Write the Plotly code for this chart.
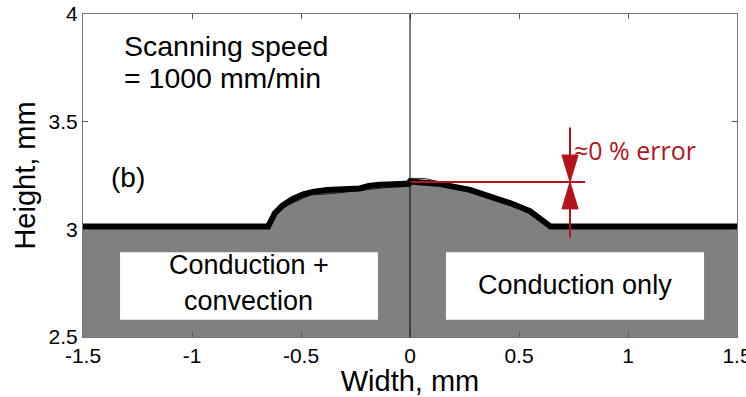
import plotly.graph_objects as go

# Melt-track cross-section profile (mm)
profile_x = [-1.5, -0.651, -0.62, -0.585, -0.54, -0.49, -0.44, -0.38, -0.23, -0.19, -0.14, -0.005,
             0.0, 0.14, 0.275, 0.367, 0.459, 0.55, 0.619, 0.645, 1.5]
profile_y = [3.013, 3.013, 3.075, 3.11, 3.14, 3.163, 3.175, 3.183, 3.19, 3.202, 3.207, 3.212,
             3.222, 3.21, 3.183, 3.155, 3.122, 3.085, 3.034, 3.013, 3.013]

# Individual simulated contours around the mean profile
contour_a_x = [-0.665, -0.635, -0.60, -0.555, -0.50, -0.455, -0.37, -0.30, -0.22, -0.12, 0.0]
contour_a_y = [3.005, 3.055, 3.09, 3.115, 3.14, 3.16, 3.165, 3.172, 3.18, 3.193, 3.2]
contour_b_x = [0.0, 0.07, 0.17, 0.26, 0.34, 0.43, 0.51, 0.58, 0.625, 0.66]
contour_b_y = [3.237, 3.236, 3.212, 3.178, 3.16, 3.135, 3.1, 3.06, 3.025, 3.005]
contour_c_x = [-0.64, -0.6, -0.52, -0.45, -0.33, -0.25, -0.15, -0.05, 0.0]
contour_c_y = [3.02, 3.095, 3.15, 3.178, 3.188, 3.198, 3.21, 3.222, 3.225]

x_ticks = [-1.5, -1, -0.5, 0, 0.5, 1, 1.5]
x_tick_labels = ["-1.5", "-1", "-0.5", "0", "0.5", "1", "1.5"]
y_ticks = [2.5, 3, 3.5, 4]
y_tick_labels = ["2.5", "3", "3.5", "4"]

# Error marker: reference height and where the dimension line sits
ref_height = 3.22
dim_x = 0.734

RED = "#b3141c"
FONT = "Liberation Sans, Arial, sans-serif"

fig = go.Figure()

# Substrate + deposited track
fig.add_trace(go.Scatter(x=profile_x, y=profile_y, mode="lines", fill="tozeroy",
                         fillcolor="#808080", line=dict(color="black", width=6),
                         hoverinfo="skip", showlegend=False))
for cx, cy in [(contour_a_x, contour_a_y), (contour_b_x, contour_b_y), (contour_c_x, contour_c_y)]:
    fig.add_trace(go.Scatter(x=cx, y=cy, mode="lines", line=dict(color="black", width=1),
                             opacity=0.8, hoverinfo="skip", showlegend=False))

# Dimension lines
fig.add_trace(go.Scatter(x=[0, 0.803], y=[ref_height, ref_height], mode="lines",
                         line=dict(color=RED, width=2), showlegend=False, hoverinfo="skip"))
fig.add_trace(go.Scatter(x=[dim_x, dim_x], y=[2.962, 3.473], mode="lines",
                         line=dict(color=RED, width=2), showlegend=False, hoverinfo="skip"))
# Arrowheads (down from above, up from below)
hw = 0.037
fig.add_trace(go.Scatter(x=[dim_x - hw, dim_x + hw, dim_x, dim_x - hw],
                         y=[3.345, 3.345, ref_height, 3.345], mode="lines", fill="toself",
                         fillcolor=RED, line=dict(color=RED, width=1),
                         showlegend=False, hoverinfo="skip"))
fig.add_trace(go.Scatter(x=[dim_x - hw, dim_x + hw, dim_x, dim_x - hw],
                         y=[3.095, 3.095, ref_height, 3.095], mode="lines", fill="toself",
                         fillcolor=RED, line=dict(color=RED, width=1),
                         showlegend=False, hoverinfo="skip"))

# White label boxes and the symmetry line
fig.add_shape(type="rect", x0=-1.33, x1=-0.147, y0=2.58, y1=2.893,
              fillcolor="white", line=dict(width=0), layer="above")
fig.add_shape(type="rect", x0=0.165, x1=1.349, y0=2.58, y1=2.893,
              fillcolor="white", line=dict(width=0), layer="above")
fig.add_shape(type="line", x0=0, x1=0, y0=2.5, y1=4,
              line=dict(color="black", width=1), layer="above")

label_font = dict(family=FONT, size=27, color="black")
fig.add_annotation(x=-0.74, y=2.835, text="Conduction +", showarrow=False, font=label_font)
fig.add_annotation(x=-0.74, y=2.668, text="convection", showarrow=False, font=label_font)
fig.add_annotation(x=0.757, y=2.742, text="Conduction only", showarrow=False, font=label_font)

speed_font = dict(family=FONT, size=28.5, color="black")
fig.add_annotation(x=-1.32, y=3.851, text="Scanning speed", showarrow=False,
                   xanchor="left", font=speed_font)
fig.add_annotation(x=-1.32, y=3.703, text="= 1000 mm/min", showarrow=False,
                   xanchor="left", font=speed_font)
fig.add_annotation(x=-1.295, y=3.24, text="(b)", showarrow=False,
                   font=dict(family=FONT, size=28, color="black"))
fig.add_annotation(x=0.745, y=3.37, text="≈0 % error", showarrow=False, xanchor="left",
                   font=dict(family="Open Sans, sans-serif", size=25, color=RED))

axis_common = dict(showgrid=False, zeroline=False, ticks="inside", ticklen=5,
                   tickcolor="#555", linecolor="#777", linewidth=1, mirror="ticks",
                   ticklabeloverflow="allow", automargin=False,
                   tickfont=dict(family=FONT, size=21, color="black"))

fig.update_xaxes(range=[-1.5, 1.5], tickvals=x_ticks, ticktext=x_tick_labels,
                 title=dict(text="Width, mm", font=dict(family=FONT, size=29, color="black"),
                            standoff=4), **axis_common)
fig.update_yaxes(range=[2.5, 4], tickvals=y_ticks, ticktext=y_tick_labels,
                 title=dict(text="Height, mm", font=dict(family=FONT, size=29, color="black"),
                            standoff=4), **axis_common)

fig.update_layout(width=746, height=397, margin=dict(l=83, r=9, t=14, b=60),
                  plot_bgcolor="white", paper_bgcolor="white", showlegend=False)

fig.write_html("out.html")
